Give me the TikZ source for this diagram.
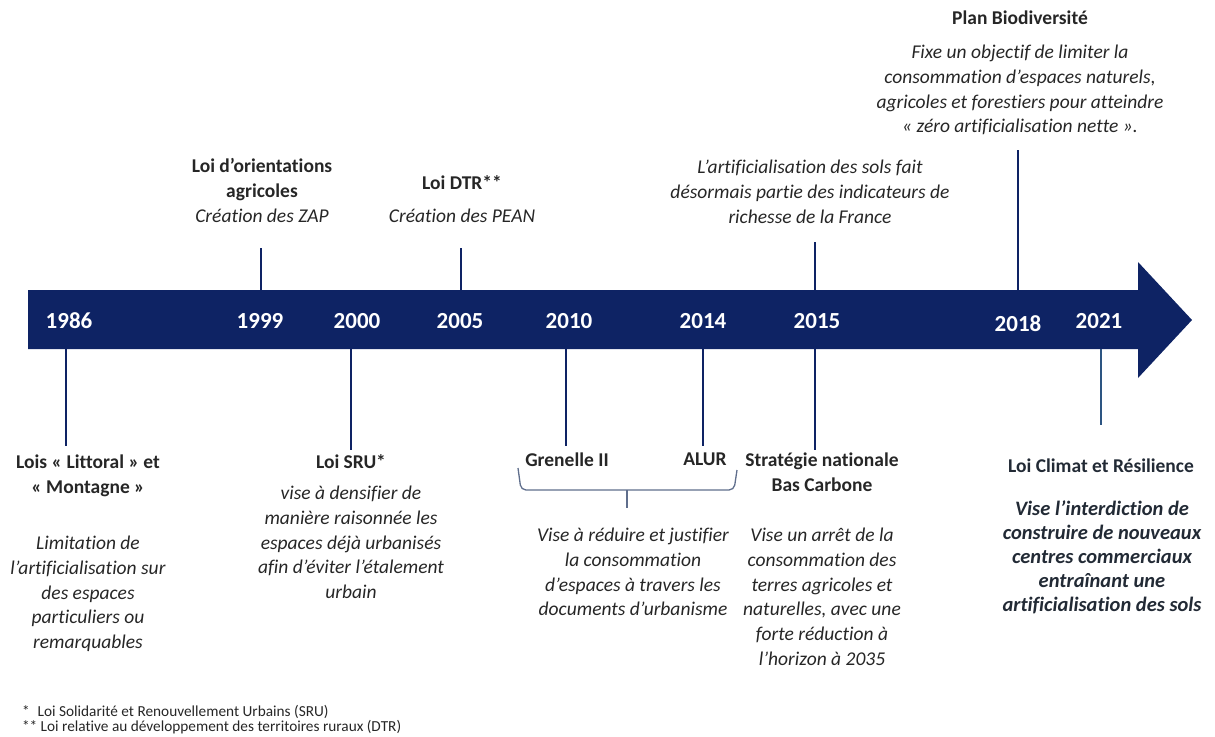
\documentclass[tikz,border=0pt]{standalone}
\usepackage{fontspec}
\setmainfont[RawFeature={-liga;-clig;-calt;-dlig}]{Carlito}
\begin{document}
\begin{tikzpicture}[x=1pt,y=-1pt,
  every node/.style={inner sep=0pt,outer sep=0pt},
  txt/.style={text=textgray,align=center,font=\fontsize{19.5}{24.8}\selectfont\itshape,anchor=north},
  ttl/.style={text=textgray,align=center,font=\fontsize{19.5}{25}\selectfont\bfseries,anchor=north},
  year/.style={text=white,font=\fontsize{23}{24}\selectfont\bfseries},
  tick/.style={draw=navy,line width=2pt},
  foot/.style={text=textgray,font=\fontsize{15.3}{15}\selectfont,anchor=west}]
\definecolor{navy}{RGB}{14,35,100}
\definecolor{textgray}{RGB}{38,38,38}
\definecolor{climat}{RGB}{34,42,53}
\definecolor{steel}{RGB}{45,85,130}
\definecolor{bracecol}{RGB}{95,110,140}
\useasboundingbox (0,0) rectangle (1215,736);
% band arrow
\fill[navy] (28,290) -- (1138,290) -- (1138,262) -- (1192,320) -- (1138,378) -- (1138,349) -- (28,349) -- cycle;
% years
\node[year] (y1986) at (69,321) {1986};
\node[year] (y1999) at (260,321) {1999};
\node[year] (y2000) at (357,321) {2000};
\node[year] (y2005) at (460,321) {2005};
\node[year] (y2010) at (569,321) {2010};
\node[year] (y2014) at (703,321) {2014};
\node[year] (y2015) at (817,321) {2015};
\node[year] (y2018) at (1018,324) {2018};
\node[year] (y2021) at (1099,321) {2021};
% band edge coordinates
\coordinate (b1986) at (66,349);
\coordinate (b1999) at (261,290);
\coordinate (b2000) at (351,349);
\coordinate (b2005) at (461,290);
\coordinate (b2010) at (566,349);
\coordinate (b2014) at (703,349);
\coordinate (b2015u) at (815,290);
\coordinate (b2015d) at (815,349);
\coordinate (b2018) at (1018,290);
\coordinate (b2021) at (1101,349);
% upper texts
\node[ttl] (loa) at (262,158) {Loi d’orientations\\agricoles};
\node[txt] (zap) at (262,209) {Création des ZAP};
\node[ttl] (dtr) at (462,176) {Loi DTR**};
\node[txt] (pean) at (462,209) {Création des PEAN};
\node[txt] (indic) at (810,160) {L’artificialisation des sols fait\\désormais partie des indicateurs de\\richesse de la France};
\node[ttl] (biot) at (1020,11) {Plan Biodiversité};
\node[txt] (bio) at (1020,45) {Fixe un objectif de limiter la\\consommation d’espaces naturels,\\agricoles et forestiers pour atteindre\\« zéro artificialisation nette ».};
% upper end coordinates
\coordinate (e1999) at (261,248);
\coordinate (e2005) at (461,248);
\coordinate (e2015) at (815,242);
\coordinate (e2018) at (1018,150);
% lower end coordinates
\coordinate (f1986) at (66,446);
\coordinate (f2000) at (351,450);
\coordinate (f2010) at (566,446);
\coordinate (f2014) at (703,446);
\coordinate (f2015) at (815,450);
\coordinate (f2021) at (1101,425);
% ticks
\draw[tick] (b1999) -- (e1999);
\draw[tick] (b2005) -- (e2005);
\draw[tick] (b2015u) -- (e2015);
\draw[tick] (b2018) -- (e2018);
\draw[tick] (b1986) -- (f1986);
\draw[tick] (b2000) -- (f2000);
\draw[tick] (b2010) -- (f2010);
\draw[tick] (b2014) -- (f2014);
\draw[tick] (b2015d) -- (f2015);
\draw[draw=steel,line width=2.5pt] (b2021) -- (f2021);
% lower texts
\node[ttl] (litt) at (88,455) {Lois « Littoral » et\\« Montagne »};
\node[txt] (littd) at (88,536) {Limitation de\\l’artificialisation sur\\des espaces\\particuliers ou\\remarquables};
\node[ttl] (sru) at (351,455) {Loi SRU*};
\node[txt] (srud) at (351,486) {vise à densifier de\\manière raisonnée les\\espaces déjà urbanisés\\afin d’éviter l’étalement\\urbain};
\node[ttl] (gren) at (567,453) {Grenelle II};
\node[ttl] (alur) at (705,453) {ALUR};
\coordinate (brL) at (518,468);
\coordinate (brM) at (627,490);
\coordinate (brR) at (737,470);
\coordinate (brT) at (627,508);
\draw[bracecol,line width=1.3pt,rounded corners=5pt] (brL) -- (521,490) -- (brM) -- (734,490) -- (brR);
\draw[bracecol,line width=1.3pt] (brM) -- (brT);
\node[txt] (grend) at (633,528) {Vise à réduire et justifier\\la consommation\\d’espaces à travers les\\documents d’urbanisme};
\node[ttl] (snbc) at (822,453) {Stratégie nationale\\Bas Carbone};
\node[txt] (snbcd) at (822,528) {Vise un arrêt de la\\consommation des\\terres agricoles et\\naturelles, avec une\\forte réduction à\\l’horizon à 2035};
\node[text=climat,font=\fontsize{19.5}{22}\selectfont\bfseries] (clim) at (1101,466) {Loi Climat et Résilience};
\node[text=climat,align=center,font=\fontsize{20.5}{24}\selectfont\bfseries\itshape,anchor=north] (climd) at (1102,501) {Vise l’interdiction de\\construire de nouveaux\\centres commerciaux\\entraînant une\\artificialisation des sols};
% footnotes
\node[foot] (fn1) at (22,712) {*\hspace{8pt}Loi Solidarité et Renouvellement Urbains (SRU)};
\node[foot] (fn2) at (22,727) {** Loi relative au développement des territoires ruraux (DTR)};
\end{tikzpicture}
\end{document}
